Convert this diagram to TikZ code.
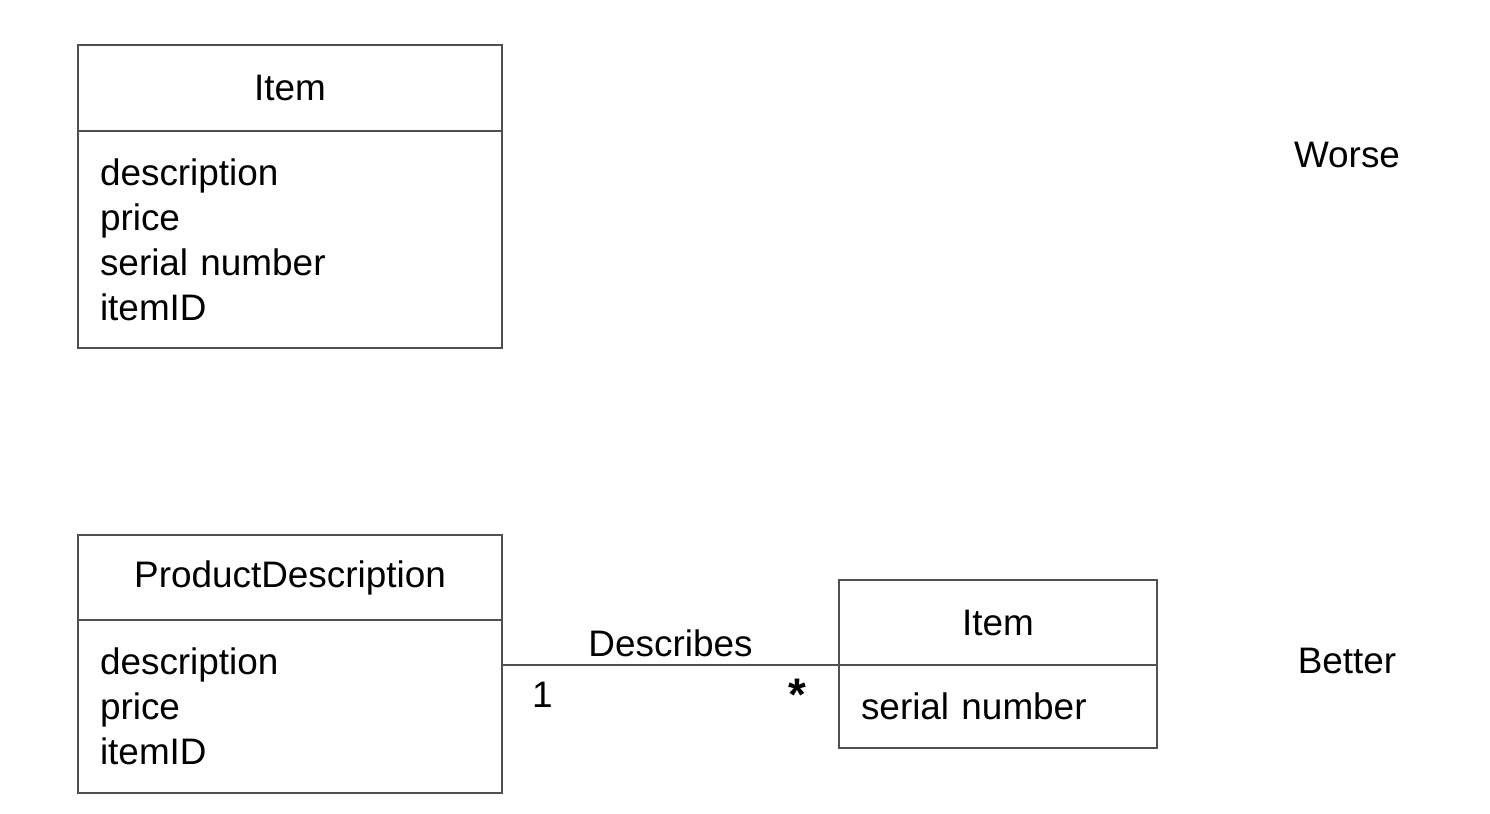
\documentclass[tikz,border=0pt]{standalone}
\usepackage{fontspec}
\setmainfont{Liberation Sans}
\usetikzlibrary{positioning}
\definecolor{umlgrey}{RGB}{80,80,80}

\begin{document}
\begin{tikzpicture}[x=0.02cm, y=-0.02cm,
    every node/.style={font=\fontsize{21}{25.6}\selectfont, text=black},
    head/.style={rectangle, draw=umlgrey, line width=1.1pt,
        inner sep=0pt, outer sep=0pt, align=center},
    attrs/.style={rectangle, draw=umlgrey, line width=1.1pt,
        inner xsep=0.44cm, inner ysep=0pt, outer sep=0pt, align=left, anchor=north},
    assoc/.style={draw=umlgrey, line width=1.1pt}
]
    \useasboundingbox (0,0) rectangle (1490,814);

    % worse: one class
    \node[head, minimum width=8.48cm, minimum height=1.72cm] (item) at (290,88) {Item};
    \node[attrs, minimum width=8.48cm, text width=7.6cm, minimum height=4.34cm]
        (itemattr) at (item.south) {description\\price\\serial number\\itemID\\[-4pt]};
    \node (worse) at (1347,155) {Worse};

    % better: two classes
    \node[head, minimum width=8.48cm, minimum height=1.7cm] (pd) at (290,577.5) {ProductDescription};
    \node[attrs, minimum width=8.48cm, text width=7.6cm, minimum height=3.46cm]
        (pdattr) at (pd.south) {description\\price\\itemID\\[-4pt]};
    \node[head, minimum width=6.36cm, minimum height=1.7cm] (item2) at (998,622.5) {Item};
    \node[attrs, minimum width=6.36cm, text width=5.48cm, minimum height=1.66cm]
        (item2attr) at (item2.south) {serial number};
    \node (better) at (1347,661) {Better};

    \draw[assoc] (pdattr.east |- item2.south west) -- (item2.south west)
        node[pos=0.5, above=1pt] (desc) {Describes}
        node[pos=0.12, below=6pt] (one) {1}
        node[pos=0.875, below=4pt, font=\fontsize{26}{30}\selectfont\bfseries] (many) {*};
\end{tikzpicture}
\end{document}
